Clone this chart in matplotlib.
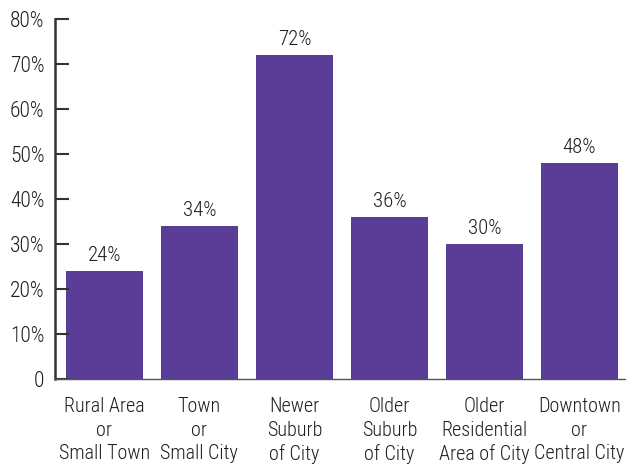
import matplotlib
matplotlib.use("Agg")
import matplotlib.pyplot as plt
from matplotlib.ticker import FixedLocator, FixedFormatter

# data
categories = ["Rural Area\nor\nSmall Town", "Town\nor\nSmall City", "Newer\nSuburb\nof City",
              "Older\nSuburb\nof City", "Older\nResidential\nArea of City", "Downtown\nor\nCentral City"]
values = [24, 34, 72, 36, 30, 48]
y_ticks = [0, 10, 20, 30, 40, 50, 60, 70, 80]
y_tick_labels = ["0", "10%", "20%", "30%", "40%", "50%", "60%", "70%", "80%"]

plt.rcParams['font.family'] = ['Roboto Condensed', 'DejaVu Sans']
plt.rcParams['font.weight'] = 'light'
text_col = '#1e1e1e'

fig = plt.figure(figsize=(6.26, 4.66), dpi=100)
ax = fig.add_axes([55/626, 87/466, 571/626, 360/466])

x = list(range(len(values)))
bars = ax.bar(x, values, width=0.81, color='#5a3d96')

for xi, v in zip(x, values):
	ax.annotate(str(v) + "%", (xi, v), xytext=(0, 4), textcoords='offset points',
		ha='center', va='bottom', fontsize=15, color=text_col)

ax.set_xlim(-0.52, 5.49)
ax.set_ylim(0, 80)
ax.yaxis.set_major_locator(FixedLocator(y_ticks))
ax.yaxis.set_major_formatter(FixedFormatter(y_tick_labels))
ax.set_xticks(x)
ax.set_xticklabels(categories, fontsize=14.5, color=text_col, linespacing=1.3)
ax.tick_params(axis='y', direction='in', length=10, width=1.5, color='#333333',
	labelsize=15.5, labelcolor=text_col, pad=7.5)
ax.tick_params(axis='x', length=0, pad=13)

for s in ['top', 'right']:
	ax.spines[s].set_visible(False)
ax.spines['left'].set_linewidth(1.8)
ax.spines['left'].set_color('#333333')
ax.spines['bottom'].set_linewidth(1.0)
ax.spines['bottom'].set_color('#555555')

fig.savefig("out.png", dpi=100)
